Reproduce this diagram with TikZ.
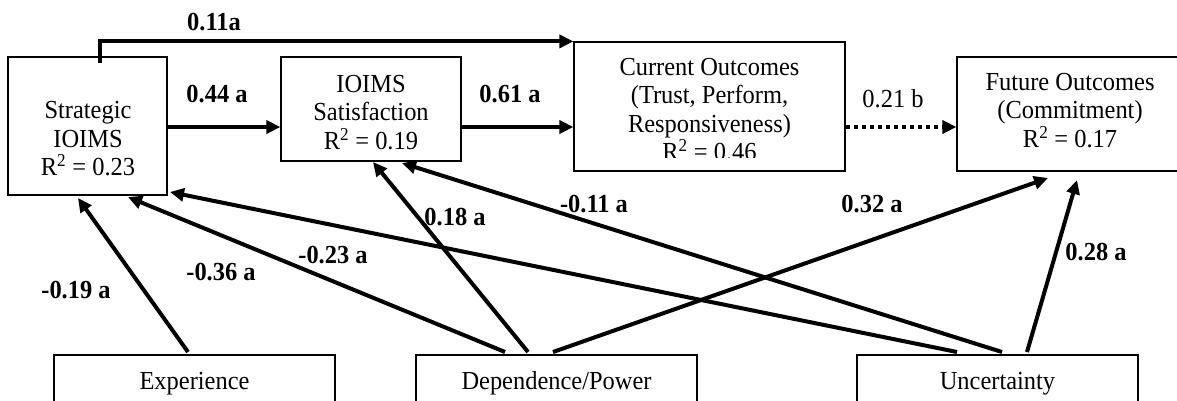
\documentclass[tikz,border=0pt]{standalone}
\usepackage{fontspec}
\setmainfont[FakeStretch=0.94]{Liberation Serif}
\usetikzlibrary{arrows.meta,calc}
\begin{document}
\begin{tikzpicture}[x=1pt,y=-1pt,
  box/.style={draw,line width=1.2pt,inner sep=0pt},
  txt/.style={inner sep=0pt,align=center,font=\fontsize{26}{28.5}\selectfont},
  lbl/.style={inner sep=0pt,font=\fontsize{26}{28.5}\selectfont\bfseries},
  plain/.style={inner sep=0pt,font=\fontsize{26}{28.5}\selectfont},
  arr/.style={line width=4pt,line cap=butt,-{Triangle[length=14pt,width=13pt]}},
  dotarr/.style={line width=4pt,line cap=butt,dash pattern=on 4pt off 4pt,-{Triangle[length=14pt,width=13pt]}}]
\useasboundingbox (0,0) rectangle (1177,400);
\clip (0,0) rectangle (1177,400);
\fill[white] (0,0) rectangle (1177,400);
% boxes
\node[box,minimum width=159pt,minimum height=138pt] (strat) at (87.5,126) {};
\node[box,minimum width=180pt,minimum height=104pt] (sat) at (371,109) {};
\node[box,minimum width=271pt,minimum height=129pt] (cur) at (709.5,106.5) {};
\node[box,minimum width=240pt,minimum height=114pt] (fut) at (1077,114) {};
\node[box,minimum width=281pt,minimum height=70pt] (exp) at (194.5,390) {};
\node[box,minimum width=281pt,minimum height=70pt] (dep) at (556.5,390) {};
\node[box,minimum width=281pt,minimum height=70pt] (unc) at (997.5,390) {};
% texts
\node[txt,anchor=north] (stratT) at (88,101.5) {Strategic\\IOIMS\\R\textsuperscript{2} = 0.23};
\node[txt,anchor=north] (satT) at (371,75) {IOIMS\\Satisfaction\\R\textsuperscript{2} = 0.19};
\begin{scope}
\clip (574,42) rectangle (845,157);
\node[txt,anchor=north] (curT) at (709.5,58) {Current Outcomes\\(Trust, Perform,\\Responsiveness)\\R\textsuperscript{2} = 0.46};
\end{scope}
\node[txt,anchor=north] (futT) at (1070,73) {Future Outcomes\\(Commitment)\\R\textsuperscript{2} = 0.17};
\node[plain,anchor=base] (expT) at (194.5,389) {Experience};
\node[plain,anchor=base] (depT) at (556.5,389) {Dependence/Power};
\node[plain,anchor=base] (uncT) at (997.5,389) {Uncertainty};
% top connectors
\coordinate (row) at (0,127);
\coordinate (s0) at (99.5,63);
\draw[arr] (s0) |- (cur.north west);
\draw[arr] (strat.east |- row) -- (sat.west |- row);
\draw[arr] (sat.east |- row) -- (cur.west |- row);
\draw[dotarr] (cur.east |- row) -- (fut.west |- row);
% bottom connectors
\coordinate (e1) at (188,352);
\coordinate (d1) at (505,352);
\coordinate (d2) at (528,352);
\coordinate (d3) at (553,352);
\coordinate (u1) at (957,352);
\coordinate (u2) at (1002,352);
\coordinate (u3) at (1027,352);
\coordinate (t1) at (78,198);
\coordinate (t2) at (128,197);
\coordinate (t3) at (170,192);
\coordinate (t4) at (373,162);
\coordinate (t5) at (402,163);
\coordinate (t6) at (1048,178);
\coordinate (t7) at (1077,180);
\draw[arr] (e1) -- (t1);
\draw[arr] (d1) -- (t2);
\draw[arr] (u1) -- (t3);
\draw[arr] (d2) -- (t4);
\draw[arr] (u2) -- (t5);
\draw[arr] (d3) -- (t6);
\draw[arr] (u3) -- (t7);
% labels
\node[lbl,anchor=base] (l1) at (214,30) {0.11a};
\node[lbl,anchor=base] (l2) at (217,102) {0.44 a};
\node[lbl,anchor=base] (l3) at (510,102) {0.61 a};
\node[plain,anchor=base] (l4) at (893,107) {0.21 b};
\node[lbl] (l5) at (76,290) {-0.19 a};
\node[lbl] (l6) at (221,272) {-0.36 a};
\node[lbl] (l7) at (333,255) {-0.23 a};
\node[lbl] (l8) at (455,217) {0.18 a};
\node[lbl] (l9) at (594,204) {-0.11 a};
\node[lbl] (l10) at (872,204) {0.32 a};
\node[lbl] (l11) at (1096,252) {0.28 a};
\end{tikzpicture}
\end{document}
